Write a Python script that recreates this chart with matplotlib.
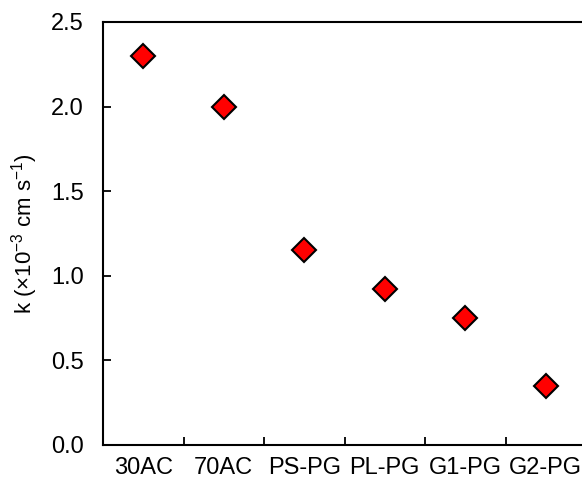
import matplotlib
matplotlib.use("Agg")
import matplotlib.pyplot as plt
from matplotlib.ticker import FixedLocator

categories = ["30AC", "70AC", "PS-PG", "PL-PG", "G1-PG", "G2-PG"]
k_values = [2.30, 2.00, 1.15, 0.92, 0.75, 0.35]
y_ticks = [0.0, 0.5, 1.0, 1.5, 2.0, 2.5]

plt.rcParams['font.family'] = ['Liberation Sans', 'DejaVu Sans']
plt.rcParams['mathtext.fontset'] = 'custom'
plt.rcParams['mathtext.rm'] = 'Liberation Sans'
plt.rcParams['mathtext.it'] = 'Liberation Sans:italic'
plt.rcParams['mathtext.bf'] = 'Liberation Sans:bold'

fig = plt.figure(figsize=(5.82, 4.83), dpi=100)
ax = fig.add_axes([0.177, 0.0787, 0.83, 0.8758])

x = list(range(len(categories)))
ax.plot(x, k_values, linestyle='none', marker='D', markersize=12.5,
        markerfacecolor='#ff0000', markeredgecolor='black', markeredgewidth=1.5,
        clip_on=False, zorder=3)

ax.set_xlim(-0.5, len(categories) - 0.5)
ax.set_ylim(0, 2.5)
ax.set_yticks(y_ticks)
ax.set_yticklabels([f"{v:.1f}" for v in y_ticks])
ax.set_xticks(x)
ax.set_xticklabels(categories)
ax.xaxis.set_minor_locator(FixedLocator([i + 0.5 for i in range(len(categories) - 1)]))

ax.tick_params(axis='x', which='major', length=0, pad=9, labelsize=17)
ax.tick_params(axis='x', which='minor', direction='in', length=6, width=1.3)
ax.tick_params(axis='y', which='major', direction='in', length=6, width=1.3,
               labelsize=17, pad=14)

for s in ['left', 'bottom', 'top']:
    ax.spines[s].set_linewidth(1.5)
ax.spines['right'].set_visible(False)

ax.set_ylabel(r"k (×10$^{\mathrm{-3}}$ cm s$^{\mathrm{-1}}$)", fontsize=16, labelpad=8)

fig.savefig("out.png", dpi=100, facecolor='white')
